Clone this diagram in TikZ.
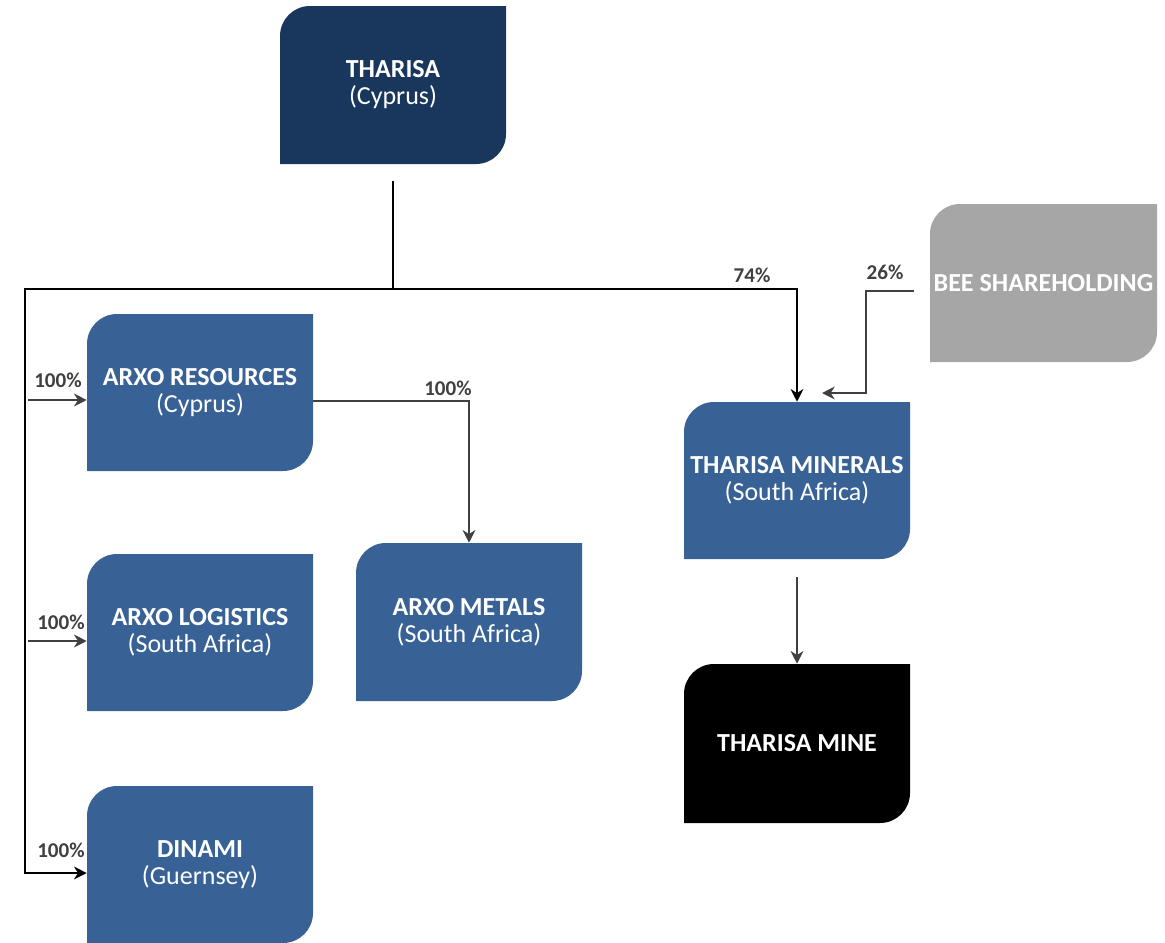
\documentclass[tikz,border=0pt]{standalone}
\usepackage{fontspec}
\setmainfont{Carlito}
\usetikzlibrary{arrows.meta,calc}
\definecolor{navy}{HTML}{19375D}
\definecolor{midblue}{HTML}{386296}
\definecolor{beegray}{HTML}{A6A6A6}
\definecolor{linegray}{HTML}{404040}
\newcommand{\leafbox}[7]{%
  \fill[#6] (#2,#3+30) .. controls (#2,#3+13.4) and (#2+13.4,#3) .. (#2+30,#3)
     -- (#4,#3) -- (#4,#5-30) .. controls (#4,#5-13.4) and (#4-13.4,#5) .. (#4-30,#5)
     -- (#2,#5) -- cycle;
  \node[boxtext, minimum width={(#4-#2)*0.75pt}, minimum height={(#5-#3)*0.75pt}]
     (#1) at ({(#2+#4)/2},{(#3+#5)/2}) {#7};
}
\tikzset{
  boxtext/.style={inner sep=0pt, align=center, text=white,
    font=\fontsize{19.5}{20.25}\selectfont},
  blk/.style={draw=black, line width=1.5pt},
  gry/.style={draw=linegray, line width=1.4pt},
  tip/.style={-{Stealth[length=9.5pt,width=9.5pt,inset=3pt]}},
  pct/.style={inner sep=0pt, text=linegray, font=\fontsize{15.8}{18}\selectfont\bfseries},
}
\begin{document}
\begin{tikzpicture}[x=0.75pt,y=-0.75pt]
\useasboundingbox (0,0) rectangle (1165,943);
\leafbox{tharisa}{280}{6}{506}{164}{navy}{\textbf{THARISA}\\(Cyprus)}
\leafbox{res}{87}{314}{313}{471}{midblue}{\textbf{ARXO RESOURCES}\\(Cyprus)}
\leafbox{log}{87}{554}{313}{711}{midblue}{\textbf{ARXO LOGISTICS}\\(South Africa)}
\leafbox{dinami}{87}{786}{313}{943}{midblue}{\textbf{DINAMI}\\(Guernsey)}
\leafbox{metals}{356}{543}{582}{701}{midblue}{\textbf{ARXO METALS}\\(South Africa)}
\leafbox{minerals}{684}{402}{910}{559}{midblue}{\textbf{THARISA MINERALS}\\(South Africa)}
\leafbox{mine}{684}{664}{910}{823}{black}{\textbf{THARISA MINE}}
\leafbox{bee}{930}{204}{1157}{362}{beegray}{\textbf{BEE SHAREHOLDING}}

% junction coordinates
\coordinate (jn) at (393,289);
\coordinate (lc) at (25,289);
\coordinate (r0) at (28,400);
\coordinate (l0) at (28,641);
\coordinate (b0) at (914,291);
\coordinate (b1) at (866,291);
\coordinate (bend) at (822,393);

% black ownership lines
\draw[blk, shorten <=12.75pt] (tharisa.south) -- (jn);
\draw[blk, tip] (jn) -| (minerals.north);
\draw[blk, tip] (jn) -- (lc) |- ($(dinami.west)+(0,8.5)$);

% gray arrows
\draw[gry, tip] (r0) -- (r0 -| res.west);
\draw[gry, tip] (l0) -- (l0 -| log.west);
\draw[gry, tip] ($(res.east)+(0,8.5)$) -| (metals.north);
\draw[gry, tip] (b0) -- (b1) |- (bend);
\draw[gry, tip, shorten <=13.5pt] (minerals.south) -- (mine.north);

% percentage labels
\node[pct] (p1) at (58,380) {100\%};
\node[pct] (p2) at (61,622) {100\%};
\node[pct] (p3) at (61,850) {100\%};
\node[pct] (p4) at (448,388) {100\%};
\node[pct] (p5) at (752,275) {74\%};
\node[pct] (p6) at (885,272) {26\%};
\end{tikzpicture}
\end{document}
